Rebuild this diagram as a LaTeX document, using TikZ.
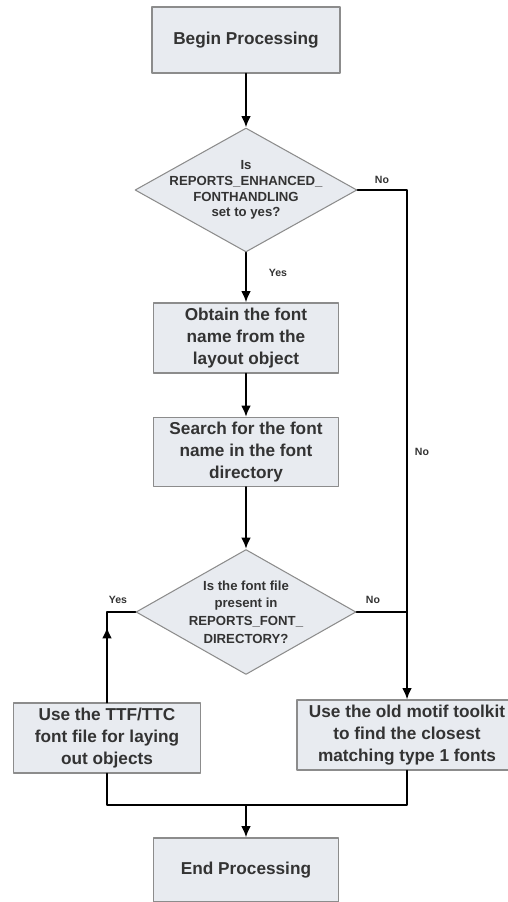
\documentclass[tikz,border=0pt]{standalone}
\usepackage{fontspec}
\setmainfont{Liberation Sans}
\usetikzlibrary{arrows.meta}
\usetikzlibrary{shapes.geometric}
\definecolor{boxfill}{rgb}{0.91, 0.92, 0.94}
\definecolor{boxline}{rgb}{0.55, 0.55, 0.55}
\definecolor{boxtext}{rgb}{0.2, 0.2, 0.2}

\begin{document}
\begin{tikzpicture}[line cap=round,line join=round,x=0.02cm,y=-0.02cm,
  box/.style={draw=boxline, fill=boxfill, line width=0.6pt, align=center, text=boxtext, font=\bfseries\fontsize{9.8}{12.4}\selectfont, inner sep=0pt},
  test/.style={diamond, draw=boxline, fill=boxfill, line width=0.6pt, inner sep=0pt, minimum width=4.44cm, minimum height=2.48cm},
  testtext/.style={align=center, text=boxtext, font=\bfseries\fontsize{7.5}{9}\selectfont},
  flow/.style={line width=1.1pt, -{Latex[length=6.5pt, width=5.5pt]}},
  link/.style={line width=1.1pt},
  lbl/.style={text=boxtext, font=\bfseries\fontsize{6}{7}\selectfont}]
\useasboundingbox (0,0) rectangle (507,902);
\node[box, minimum width=3.76cm, minimum height=1.32cm] (begin) at (246,40) {Begin Processing};
\node[test, label={[testtext]center:{Is\\REPORTS\_ENHANCED\_\\FONTHANDLING\\set to yes?}}] (isenh) at (246,190) {};
\node[box, minimum width=3.7cm, minimum height=1.4cm] (obtain) at (246,338) {Obtain the font\\name from the\\layout object};
\node[box, minimum width=3.7cm, minimum height=1.38cm] (search) at (246,452) {Search for the font\\name in the font\\directory};
\node[test, minimum width=4.4cm, minimum height=2.5cm, label={[testtext, font=\bfseries\fontsize{7.5}{10}\selectfont]center:{Is the font file\\present in\\REPORTS\_FONT\_\\DIRECTORY?}}] (isfile) at (246,612) {};
\node[box, minimum width=3.74cm, minimum height=1.4cm] (ttf) at (107,738) {Use the TTF/TTC\\font file for laying\\out objects};
\node[box, minimum width=4.4cm, minimum height=1.4cm] (motif) at (407,735) {Use the old motif toolkit\\to find the closest\\matching type 1 fonts};
\node[box, minimum width=3.7cm, minimum height=1.28cm] (end) at (246,870) {End Processing};
\coordinate (merge) at (246,805);
\coordinate (yestip) at (110,627);
% connectors
\draw[flow] (begin) -- (isenh);
\draw[flow] (isenh) -- (obtain);
\draw[flow] (obtain) -- (search);
\draw[flow] (search) -- (isfile);
\draw[flow] (isenh.east) -| (motif.north);
\draw[link] (isfile.east) -- (isfile.east -| motif.north);
\draw[link] (isfile.west) -| (ttf.north);
\draw[flow] (ttf.north) -- (ttf.north |- yestip);
\draw[link] (ttf.south) |- (merge) -| (motif.south);
\draw[flow] (merge) -- (end);
% labels
\node[lbl] (noenh) at (382,180) {No};
\node[lbl] (yesenh) at (278,273) {Yes};
\node[lbl] (nofar) at (422,452) {No};
\node[lbl] (yesfile) at (118,600) {Yes};
\node[lbl] (nofile) at (373,600) {No};
\end{tikzpicture}
\end{document}
